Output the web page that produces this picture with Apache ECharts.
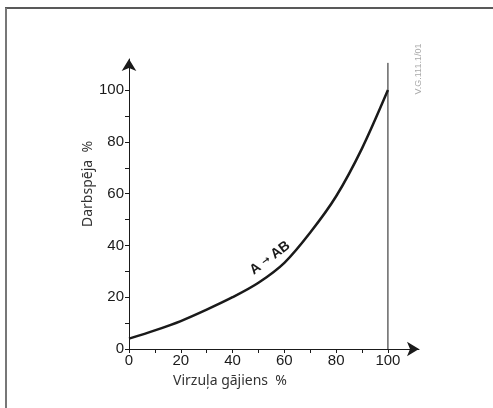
<!DOCTYPE html>
<html>
<head>
<meta charset="utf-8">
<script src="https://cdn.jsdelivr.net/npm/echarts@6/dist/echarts.min.js"></script>
<style>
    html, body { margin: 0; padding: 0; background: #fff; }
    #myChart { width: 493px; height: 408px; }
</style>
</head>
<body>
<div id="myChart"></div>
<script>
// 曲线数据
var stroke = [0, 10, 20, 30, 40, 50, 60, 70, 80, 90, 100];
var power = [4, 7.2, 10.8, 15.2, 20, 25.6, 33.3, 45, 59, 77.5, 100];
// 竖线 (100%)
var limitX = [100, 100];
var limitY = [0, 110.5];
var tickValues = [0, 10, 20, 30, 40, 50, 60, 70, 80, 90, 100];
var labelValues = [0, 20, 40, 60, 80, 100];

var myChart;
window.onload = function () {
    myChart = echarts.init(document.getElementById('myChart'));
    drawChart();
};

function pairs(xs, ys) {
    var arr = [];
    for (var i = 0; i < xs.length; i++) {
        arr.push([xs[i], ys[i]]);
    }
    return arr;
}

function makeAxis(margin) {
    return {
        type: 'value',
        min: 0,
        max: 112,
        splitLine: { show: false },
        axisLine: {
            show: true,
            symbol: ['none', 'arrow'],
            symbolSize: [11, 12],
            lineStyle: { color: '#1a1a1a', width: 1 }
        },
        axisTick: {
            show: true,
            length: 4,
            customValues: tickValues,
            lineStyle: { color: '#1a1a1a', width: 1 }
        },
        axisLabel: {
            customValues: labelValues,
            margin: margin,
            color: '#1a1a1a',
            fontFamily: 'Liberation Sans',
            fontSize: 15
        }
    };
}

function drawChart() {
    var option = {
        animation: false,
        backgroundColor: '#fff',
        grid: {
            left: 129,
            right: 74,
            top: 59,
            bottom: 59
        },
        xAxis: makeAxis(4),
        yAxis: makeAxis(5),
        graphic: [
            // 边框 (上、左)
            { type: 'line', shape: { x1: 5, y1: 8, x2: 493, y2: 8 }, style: { stroke: '#222', lineWidth: 1.5 } },
            { type: 'line', shape: { x1: 6, y1: 8, x2: 6, y2: 408 }, style: { stroke: '#777', lineWidth: 2 } },
            {
                type: 'text', x: 88, y: 184, rotation: Math.PI / 2,
                style: {
                    text: 'Darbspēja  %', fill: '#333', font: '14px "Noto Sans"',
                    align: 'center', verticalAlign: 'middle'
                }
            },
            {
                type: 'text', x: 230, y: 381,
                style: {
                    text: 'Virzuļa gājiens  %', fill: '#333', font: '14px "Noto Sans"',
                    align: 'center', verticalAlign: 'middle'
                }
            },
            {
                type: 'text', x: 270, y: 258, rotation: 0.64,
                style: {
                    text: '{a|A }{r|→}{a| AB}',
                    align: 'center', verticalAlign: 'middle',
                    rich: {
                        a: { fill: '#1a1a1a', font: 'bold 14px "Liberation Sans"' },
                        r: { fill: '#1a1a1a', font: 'bold 10px "DejaVu Sans"' }
                    }
                }
            },
            {
                type: 'text', x: 419, y: 69, rotation: Math.PI / 2,
                style: {
                    text: 'V.G.111.1/01', fill: '#aaa', font: '9px "Liberation Sans"',
                    align: 'center', verticalAlign: 'middle'
                }
            }
        ],
        series: [{
            name: 'A→AB',
            type: 'line',
            smooth: 0.3,
            symbol: 'none',
            lineStyle: { color: '#1a1a1a', width: 2.5 },
            data: pairs(stroke, power)
        }, {
            name: 'limit',
            type: 'line',
            symbol: 'none',
            lineStyle: { color: '#1a1a1a', width: 1 },
            data: pairs(limitX, limitY)
        }]
    };

    myChart.setOption(option);
}
</script>
</body>
</html>
